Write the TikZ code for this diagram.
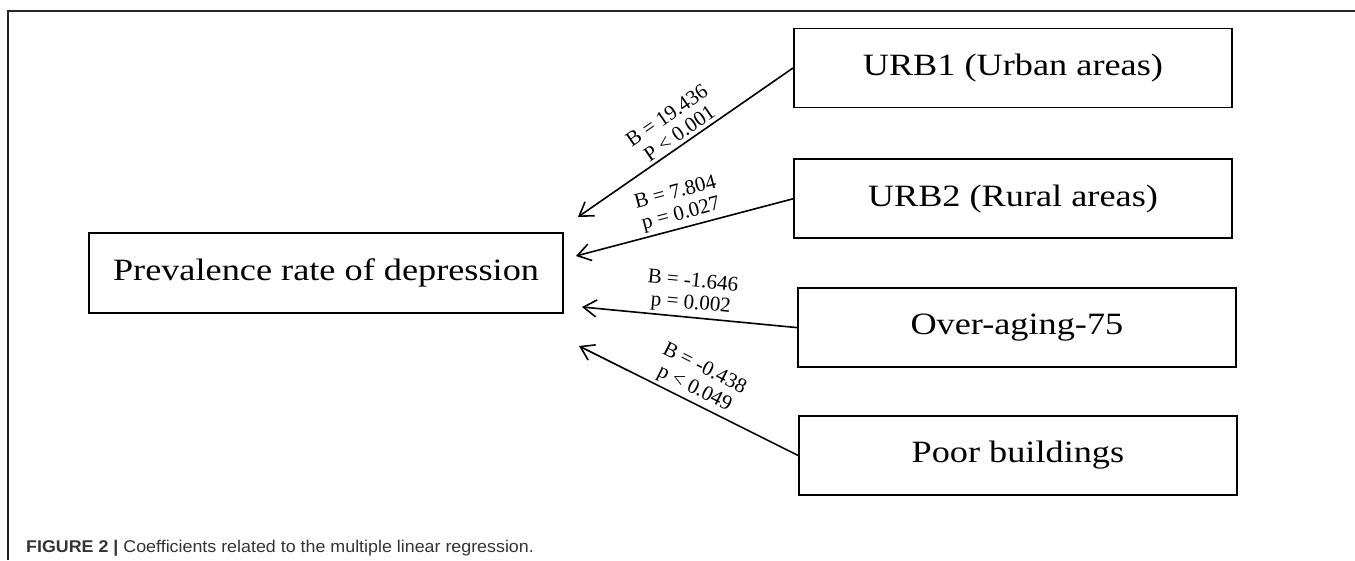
\documentclass[tikz,border=0pt]{standalone}
\usepackage{fontspec}
\setmainfont{Liberation Serif}
\setsansfont{Liberation Sans}
\newfontfamily\boxfont[FakeStretch=1.17]{Liberation Serif}
\newfontfamily\captionfont[FakeStretch=1.05]{Liberation Sans}
\usetikzlibrary{positioning,arrows.meta}

\begin{document}
\begin{tikzpicture}[x=1pt, y=-1pt,
		outcome/.style={rectangle, draw=black, line width=1.8pt, minimum width=474pt, minimum height=80pt, font=\boxfont\fontsize{31}{36}\selectfont},
		predictor/.style={rectangle, draw=black, line width=1.8pt, minimum width=438pt, minimum height=79pt, font=\boxfont\fontsize{31}{36}\selectfont},
		coef/.style={midway, above, sloped, align=center, font=\fontsize{21}{22}\selectfont, inner sep=3pt},
		effect/.style={line width=1.6pt, -{Straight Barb[length=13pt, width=17pt, line width=1.6pt]}},
		figcaption/.style={anchor=base west, inner sep=0pt, text=black!80}
	]
	\useasboundingbox (0,0) rectangle (1355,560);
	% frame of the figure
	\draw[line width=1.5pt, black!85] (8,560) -- (8,11) -- (1355,11);
	\node[outcome] (prev) at (326,273) {Prevalence rate of depression};
	\node[predictor, anchor=west] (urb1) at (793,68) {URB1 (Urban areas)};
	\node[predictor] (urb2) [below=50pt of urb1] {URB2 (Rural areas)};
	\node[predictor] (aging) [below=48pt of urb2, xshift=4pt] {Over-aging-75};
	\node[predictor] (poor) [below=47pt of aging, xshift=1pt] {Poor buildings};
	% arrow tips near the outcome box
	\coordinate (tipurb1) at (578,217);
	\coordinate (tipurb2) at (576,256);
	\coordinate (tipaging) at (582,307);
	\coordinate (tippoor) at (579,346);
	\begin{scope}[effect]
	\draw (urb1.west) -- (tipurb1) node[coef] {B = 19.436\\P < 0.001};
	\draw (urb2.west) -- (tipurb2) node[coef] {B = 7.804\\p = 0.027};
	\draw (aging.west) -- (tipaging) node[coef] {B = -1.646\\p = 0.002};
	\draw (poor.west) -- (tippoor) node[coef] {B = -0.438\\p < 0.049};
	\end{scope}
	\node[figcaption] (caption) at (26,552) {\captionfont\fontsize{17}{20}\selectfont\textbf{FIGURE 2 |} Coefficients related to the multiple linear regression.};
\end{tikzpicture}
\end{document}
